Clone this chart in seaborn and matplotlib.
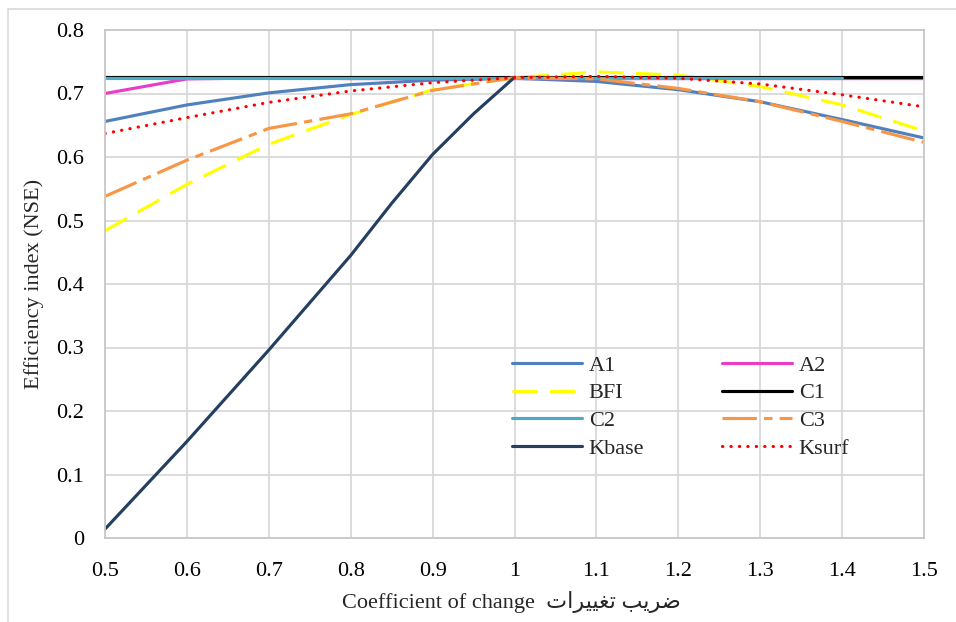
import seaborn as sns
import matplotlib.pyplot as plt
import numpy as np
from matplotlib.lines import Line2D
from matplotlib.ticker import FuncFormatter

# data
coef = [0.5, 0.6, 0.7, 0.8, 0.9, 1.0, 1.1, 1.2, 1.3, 1.4, 1.5]
a1 = [0.656, 0.682, 0.701, 0.714, 0.721, 0.724, 0.719, 0.706, 0.687, 0.659, 0.630]
a2 = [0.700, 0.723, 0.7245, 0.7235, 0.7235, 0.7235, 0.7235, 0.7235, 0.7235, 0.7235, 0.7235]
bfi = [0.484, 0.557, 0.620, 0.667, 0.706, 0.725, 0.734, 0.729, 0.711, 0.682, 0.641]
c1 = [0.7255] * 11
c2 = [0.7245] * 10                      # stops at 1.4
c3 = [0.538, 0.595, 0.645, 0.668, 0.705, 0.725, 0.723, 0.708, 0.687, 0.656, 0.623]
kbase_x = [0.5, 0.6, 0.7, 0.8, 0.85, 0.9, 0.95, 1.0]
kbase = [0.014, 0.152, 0.296, 0.445, 0.527, 0.604, 0.668, 0.7255]
ksurf = [0.637, 0.662, 0.686, 0.704, 0.717, 0.725, 0.727, 0.724, 0.715, 0.698, 0.679]

names = ["A1", "A2", "BFI", "C1", "C2", "C3", "Kbase", "Ksurf"]
xs = [coef, coef, coef, coef, coef[:10], coef, kbase_x, coef]
values = [a1, a2, bfi, c1, c2, c3, kbase, ksurf]
colors = ["#4f81bd", "#e93cc8", "#ffff00", "#000000", "#4bacc6", "#f79646", "#243f60", "#ff0000"]
styles = ["-", "-", (0, (8, 4)), "-", "-", (0, (11, 2.3, 2.7, 2.3)), "-", (0, (0.1, 2.6))]

sns.set_style("white")
plt.rcParams["font.family"] = ["Liberation Serif", "DejaVu Sans"]

fig = plt.figure(figsize=(9.56, 6.22), dpi=100)
ax = fig.add_axes([105 / 956, 1 - 538 / 622, 819 / 956, 508 / 622])

for name, x, vals, col, ls in zip(names, xs, values, colors, styles):
    sns.lineplot(x=x, y=vals, color=col, linestyle=ls,
                 linewidth=2.25, label=name, ax=ax, errorbar=None)
    if name == "Ksurf":
        ax.lines[-1].set_dash_capstyle("round")

ax.set_xlim(0.5, 1.5)
ax.set_ylim(0, 0.8)
ax.set_xticks(np.round(np.arange(0.5, 1.51, 0.1), 1))
ax.set_yticks(np.round(np.arange(0, 0.81, 0.1), 1))
fmt = FuncFormatter(lambda v, _: f"{v:g}")
ax.xaxis.set_major_formatter(fmt)
ax.yaxis.set_major_formatter(fmt)
ax.tick_params(axis="both", length=0, labelsize=16, colors="black")
ax.tick_params(axis="y", pad=15)
ax.tick_params(axis="x", pad=17)
ax.grid(True, color="#d9d9d9", linewidth=1.3)
for sp in ax.spines.values():
    sp.set_color("#c8c8c8")
    sp.set_linewidth(1.3)

# Arabic shaped by hand (presentation forms, visual order)
arabic = "\ufe95\ufe8d\ufeae\ufef4\ufef4\ufed0\ufe97 \ufe90\ufef3\ufeae\ufebf"
ax.set_xlabel("Coefficient of change  " + arabic, fontsize=16)
ax.set_ylabel("Efficiency index (NSE)", fontsize=16)
ax.xaxis.set_label_coords(0.496, -0.104)
ax.yaxis.set_label_coords(-0.075, 0.5)

handles, labels = ax.get_legend_handles_labels()
order = [0, 2, 4, 6, 1, 3, 5, 7]
leg = ax.legend([handles[i] for i in order], [labels[i] for i in order],
                ncol=2, frameon=False, fontsize=16, loc="upper left",
                bbox_to_anchor=(0.497, 0.36), borderpad=0, borderaxespad=0,
                handlelength=3.15, handletextpad=0.3, columnspacing=3.5,
                labelspacing=0.32)
for h in leg.get_lines():
    if h.get_color() == "#ff0000":
        h.set_dash_capstyle("round")

# outer chart border
fig.add_artist(Line2D([8 / 956, 8 / 956], [0, 1 - 9 / 622], color="#d9d9d9", lw=1.2))
fig.add_artist(Line2D([8 / 956, 1], [1 - 9 / 622, 1 - 9 / 622], color="#d9d9d9", lw=1.2))

fig.savefig("out.png", dpi=100)
